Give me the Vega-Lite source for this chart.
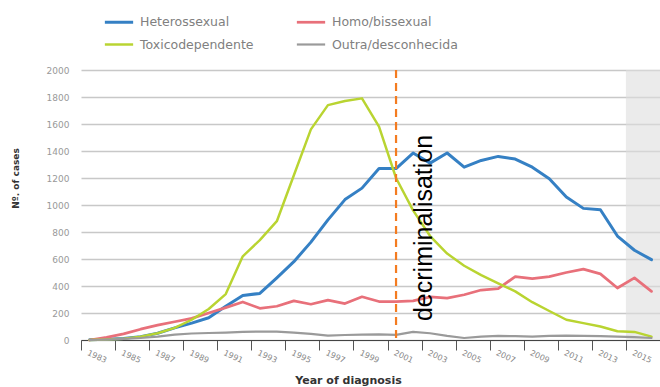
{
  "$schema": "https://vega.github.io/schema/vega-lite/v6.json",
  "width": 579,
  "height": 270,
  "autosize": {"type": "none"},
  "padding": {"left": 81, "top": 70, "right": 0, "bottom": 47},
  "background": "white",
  "config": {"view": {"stroke": null}, "font": "DejaVu Sans"},
  "datasets": {
    "series": [
      {"year": 1983, "series": "Heterossexual", "cases": 2},
      {"year": 1984, "series": "Heterossexual", "cases": 5},
      {"year": 1985, "series": "Heterossexual", "cases": 12},
      {"year": 1986, "series": "Heterossexual", "cases": 25},
      {"year": 1987, "series": "Heterossexual", "cases": 50},
      {"year": 1988, "series": "Heterossexual", "cases": 90},
      {"year": 1989, "series": "Heterossexual", "cases": 125},
      {"year": 1990, "series": "Heterossexual", "cases": 165},
      {"year": 1991, "series": "Heterossexual", "cases": 250},
      {"year": 1992, "series": "Heterossexual", "cases": 330},
      {"year": 1993, "series": "Heterossexual", "cases": 345},
      {"year": 1994, "series": "Heterossexual", "cases": 460},
      {"year": 1995, "series": "Heterossexual", "cases": 580},
      {"year": 1996, "series": "Heterossexual", "cases": 725},
      {"year": 1997, "series": "Heterossexual", "cases": 890},
      {"year": 1998, "series": "Heterossexual", "cases": 1040},
      {"year": 1999, "series": "Heterossexual", "cases": 1125},
      {"year": 2000, "series": "Heterossexual", "cases": 1270},
      {"year": 2001, "series": "Heterossexual", "cases": 1270},
      {"year": 2002, "series": "Heterossexual", "cases": 1385},
      {"year": 2003, "series": "Heterossexual", "cases": 1310},
      {"year": 2004, "series": "Heterossexual", "cases": 1385},
      {"year": 2005, "series": "Heterossexual", "cases": 1280},
      {"year": 2006, "series": "Heterossexual", "cases": 1330},
      {"year": 2007, "series": "Heterossexual", "cases": 1360},
      {"year": 2008, "series": "Heterossexual", "cases": 1340},
      {"year": 2009, "series": "Heterossexual", "cases": 1280},
      {"year": 2010, "series": "Heterossexual", "cases": 1195},
      {"year": 2011, "series": "Heterossexual", "cases": 1060},
      {"year": 2012, "series": "Heterossexual", "cases": 975},
      {"year": 2013, "series": "Heterossexual", "cases": 965},
      {"year": 2014, "series": "Heterossexual", "cases": 770},
      {"year": 2015, "series": "Heterossexual", "cases": 665},
      {"year": 2016, "series": "Heterossexual", "cases": 595},
      {"year": 1983, "series": "Homo/bissexual", "cases": 0},
      {"year": 1984, "series": "Homo/bissexual", "cases": 20},
      {"year": 1985, "series": "Homo/bissexual", "cases": 45},
      {"year": 1986, "series": "Homo/bissexual", "cases": 80},
      {"year": 1987, "series": "Homo/bissexual", "cases": 110},
      {"year": 1988, "series": "Homo/bissexual", "cases": 135},
      {"year": 1989, "series": "Homo/bissexual", "cases": 160},
      {"year": 1990, "series": "Homo/bissexual", "cases": 200},
      {"year": 1991, "series": "Homo/bissexual", "cases": 240},
      {"year": 1992, "series": "Homo/bissexual", "cases": 282},
      {"year": 1993, "series": "Homo/bissexual", "cases": 235},
      {"year": 1994, "series": "Homo/bissexual", "cases": 250},
      {"year": 1995, "series": "Homo/bissexual", "cases": 290},
      {"year": 1996, "series": "Homo/bissexual", "cases": 265},
      {"year": 1997, "series": "Homo/bissexual", "cases": 295},
      {"year": 1998, "series": "Homo/bissexual", "cases": 270},
      {"year": 1999, "series": "Homo/bissexual", "cases": 320},
      {"year": 2000, "series": "Homo/bissexual", "cases": 285},
      {"year": 2001, "series": "Homo/bissexual", "cases": 285},
      {"year": 2002, "series": "Homo/bissexual", "cases": 290},
      {"year": 2003, "series": "Homo/bissexual", "cases": 320},
      {"year": 2004, "series": "Homo/bissexual", "cases": 310},
      {"year": 2005, "series": "Homo/bissexual", "cases": 335},
      {"year": 2006, "series": "Homo/bissexual", "cases": 370},
      {"year": 2007, "series": "Homo/bissexual", "cases": 380},
      {"year": 2008, "series": "Homo/bissexual", "cases": 470},
      {"year": 2009, "series": "Homo/bissexual", "cases": 455},
      {"year": 2010, "series": "Homo/bissexual", "cases": 470},
      {"year": 2011, "series": "Homo/bissexual", "cases": 500},
      {"year": 2012, "series": "Homo/bissexual", "cases": 525},
      {"year": 2013, "series": "Homo/bissexual", "cases": 490},
      {"year": 2014, "series": "Homo/bissexual", "cases": 385},
      {"year": 2015, "series": "Homo/bissexual", "cases": 460},
      {"year": 2016, "series": "Homo/bissexual", "cases": 360},
      {"year": 1983, "series": "Toxicodependente", "cases": 0},
      {"year": 1984, "series": "Toxicodependente", "cases": 3},
      {"year": 1985, "series": "Toxicodependente", "cases": 10},
      {"year": 1986, "series": "Toxicodependente", "cases": 25},
      {"year": 1987, "series": "Toxicodependente", "cases": 50},
      {"year": 1988, "series": "Toxicodependente", "cases": 90},
      {"year": 1989, "series": "Toxicodependente", "cases": 150},
      {"year": 1990, "series": "Toxicodependente", "cases": 230},
      {"year": 1991, "series": "Toxicodependente", "cases": 340},
      {"year": 1992, "series": "Toxicodependente", "cases": 620},
      {"year": 1993, "series": "Toxicodependente", "cases": 740},
      {"year": 1994, "series": "Toxicodependente", "cases": 880},
      {"year": 1995, "series": "Toxicodependente", "cases": 1220},
      {"year": 1996, "series": "Toxicodependente", "cases": 1560},
      {"year": 1997, "series": "Toxicodependente", "cases": 1740},
      {"year": 1998, "series": "Toxicodependente", "cases": 1770},
      {"year": 1999, "series": "Toxicodependente", "cases": 1790},
      {"year": 2000, "series": "Toxicodependente", "cases": 1580},
      {"year": 2001, "series": "Toxicodependente", "cases": 1200},
      {"year": 2002, "series": "Toxicodependente", "cases": 960},
      {"year": 2003, "series": "Toxicodependente", "cases": 770},
      {"year": 2004, "series": "Toxicodependente", "cases": 640},
      {"year": 2005, "series": "Toxicodependente", "cases": 550},
      {"year": 2006, "series": "Toxicodependente", "cases": 480},
      {"year": 2007, "series": "Toxicodependente", "cases": 420},
      {"year": 2008, "series": "Toxicodependente", "cases": 360},
      {"year": 2009, "series": "Toxicodependente", "cases": 280},
      {"year": 2010, "series": "Toxicodependente", "cases": 215},
      {"year": 2011, "series": "Toxicodependente", "cases": 150},
      {"year": 2012, "series": "Toxicodependente", "cases": 125},
      {"year": 2013, "series": "Toxicodependente", "cases": 100},
      {"year": 2014, "series": "Toxicodependente", "cases": 65},
      {"year": 2015, "series": "Toxicodependente", "cases": 60},
      {"year": 2016, "series": "Toxicodependente", "cases": 25},
      {"year": 1983, "series": "Outra/desconhecida", "cases": 0},
      {"year": 1984, "series": "Outra/desconhecida", "cases": 3},
      {"year": 1985, "series": "Outra/desconhecida", "cases": 8},
      {"year": 1986, "series": "Outra/desconhecida", "cases": 15},
      {"year": 1987, "series": "Outra/desconhecida", "cases": 25},
      {"year": 1988, "series": "Outra/desconhecida", "cases": 40},
      {"year": 1989, "series": "Outra/desconhecida", "cases": 48},
      {"year": 1990, "series": "Outra/desconhecida", "cases": 52},
      {"year": 1991, "series": "Outra/desconhecida", "cases": 55},
      {"year": 1992, "series": "Outra/desconhecida", "cases": 60},
      {"year": 1993, "series": "Outra/desconhecida", "cases": 62},
      {"year": 1994, "series": "Outra/desconhecida", "cases": 62},
      {"year": 1995, "series": "Outra/desconhecida", "cases": 55},
      {"year": 1996, "series": "Outra/desconhecida", "cases": 45},
      {"year": 1997, "series": "Outra/desconhecida", "cases": 32},
      {"year": 1998, "series": "Outra/desconhecida", "cases": 37},
      {"year": 1999, "series": "Outra/desconhecida", "cases": 40},
      {"year": 2000, "series": "Outra/desconhecida", "cases": 42},
      {"year": 2001, "series": "Outra/desconhecida", "cases": 38},
      {"year": 2002, "series": "Outra/desconhecida", "cases": 60},
      {"year": 2003, "series": "Outra/desconhecida", "cases": 50},
      {"year": 2004, "series": "Outra/desconhecida", "cases": 30},
      {"year": 2005, "series": "Outra/desconhecida", "cases": 15},
      {"year": 2006, "series": "Outra/desconhecida", "cases": 25},
      {"year": 2007, "series": "Outra/desconhecida", "cases": 30},
      {"year": 2008, "series": "Outra/desconhecida", "cases": 28},
      {"year": 2009, "series": "Outra/desconhecida", "cases": 25},
      {"year": 2010, "series": "Outra/desconhecida", "cases": 30},
      {"year": 2011, "series": "Outra/desconhecida", "cases": 32},
      {"year": 2012, "series": "Outra/desconhecida", "cases": 30},
      {"year": 2013, "series": "Outra/desconhecida", "cases": 28},
      {"year": 2014, "series": "Outra/desconhecida", "cases": 25},
      {"year": 2015, "series": "Outra/desconhecida", "cases": 22},
      {"year": 2016, "series": "Outra/desconhecida", "cases": 15}
    ]
  },
  "encoding": {
    "x": {
      "field": "year", "type": "quantitative",
      "scale": {"domain": [1982.5, 2016.5], "nice": false, "zero": false},
      "axis": {
        "values": [1982.5, 1984.5, 1986.5, 1988.5, 1990.5, 1992.5, 1994.5, 1996.5, 1998.5, 2000.5, 2002.5, 2004.5, 2006.5, 2008.5, 2010.5, 2012.5, 2014.5],
        "labelExpr": "format(datum.value + 0.5, 'd')",
        "labelOverlap": false,
        "labelFlush": false,
        "labelOffset": 17,
        "labelAngle": 25,
        "labelAlign": "center",
        "labelBaseline": "top",
        "labelPadding": 3,
        "labelFontSize": 8,
        "labelColor": "#888888",
        "tickSize": 10,
        "tickColor": "#555555",
        "domainColor": "#444444",
        "grid": false,
        "title": "Year of diagnosis",
        "titleFontSize": 11,
        "titleFontWeight": "bold",
        "titleColor": "#333333",
        "titleX": 267,
        "titleY": 40,
        "titleBaseline": "middle"
      }
    },
    "y": {
      "field": "cases", "type": "quantitative",
      "scale": {"domain": [0, 2000], "nice": false},
      "axis": {
        "values": [0, 200, 400, 600, 800, 1000, 1200, 1400, 1600, 1800, 2000],
        "format": "d",
        "labelOverlap": false,
        "labelFlush": false,
        "grid": true,
        "gridColor": "#c8c8c8",
        "gridWidth": 1.5,
        "domain": false,
        "ticks": false,
        "labelFontSize": 9,
        "labelColor": "#999999",
        "labelPadding": 12,
        "title": "Nº. of cases",
        "titleFontSize": 9,
        "titleFontWeight": "bold",
        "titleColor": "#333333",
        "titleX": -61,
        "titleY": 108
      }
    }
  },
  "layer": [
    {
      "data": {"values": [{"year": 2014.5, "year_end": 2016.5, "cases": 2000, "base": 0}]},
      "mark": {"type": "rect", "color": "#dedede", "opacity": 0.6},
      "encoding": {
        "x2": {"field": "year_end"},
        "y2": {"field": "base"}
      }
    },
    {
      "data": {"name": "series"},
      "mark": {"type": "line", "strokeJoin": "round", "strokeCap": "round"},
      "encoding": {
        "color": {
          "field": "series", "type": "nominal",
          "scale": {
            "domain": ["Heterossexual", "Homo/bissexual", "Toxicodependente", "Outra/desconhecida"],
            "range": ["#3580c4", "#e8707a", "#b9d431", "#9a9a9a"]
          },
          "legend": {
            "orient": "none",
            "legendX": 22,
            "legendY": -64,
            "direction": "horizontal",
            "columns": 2,
            "columnPadding": 37,
            "rowPadding": 0,
            "symbolType": "stroke",
            "symbolSize": 800,
            "symbolStrokeWidth": 3,
            "labelFontSize": 12.5,
            "labelColor": "#808080",
            "labelOffset": 5,
            "labelLimit": 300,
            "title": null
          }
        },
        "strokeWidth": {
          "field": "series", "type": "nominal",
          "scale": {
            "domain": ["Heterossexual", "Homo/bissexual", "Toxicodependente", "Outra/desconhecida"],
            "range": [3, 2.2, 4, 1.3]
          },
          "legend": null
        }
      }
    },
    {
      "data": {"values": [{"year": 2001, "cases": 2000, "base": 0}]},
      "mark": {"type": "rule", "color": "#f47c20", "strokeDash": [8, 5], "strokeWidth": 2.2},
      "encoding": {"y2": {"field": "base"}}
    },
    {
      "data": {"values": [{"year": 2002.67, "cases": 830, "label": "decriminalisation"}]},
      "mark": {"type": "text", "angle": 270, "fontSize": 25, "font": "Liberation Sans", "color": "#000000", "align": "center", "baseline": "middle"},
      "encoding": {
        "text": {"field": "label"}
      }
    }
  ]
}
